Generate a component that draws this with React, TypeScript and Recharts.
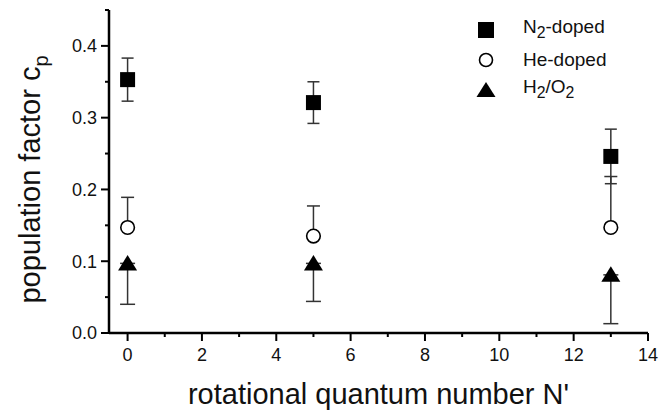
import React from 'react';
import { ScatterChart, Scatter, XAxis, YAxis, ErrorBar, Label, Legend } from 'recharts';

// rotational quantum number N'
const nPrime = [0, 5, 13];

// N2-doped flame, symmetric errors
const n2Doped = [0.353, 0.321, 0.246];
const n2Err = [0.030, 0.029, 0.038];

// He-doped flame, only upper error shown
const heDoped = [0.147, 0.135, 0.147];
const heErrUp = [0.042, 0.042, 0.071];

// H2/O2 flame, only lower error shown
const h2o2 = [0.097, 0.097, 0.081];
const h2o2ErrDown = [0.057, 0.053, 0.068];

// major ticks get a label, minor ticks only a short line
const xTicks = [0, 1, 2, 3, 4, 5, 6, 7, 8, 9, 10, 11, 12, 13, 14];
const yTicks = [0, 0.05, 0.1, 0.15, 0.2, 0.25, 0.3, 0.35, 0.4, 0.45];

const FONT = '"Liberation Sans", Arial, sans-serif';
const INK = '#111';

const n2Data = nPrime.map((x, i) => ({ x, y: n2Doped[i], err: [n2Err[i], n2Err[i]] }));
const heData = nPrime.map((x, i) => ({ x, y: heDoped[i], err: [0, heErrUp[i]] }));
const h2o2Data = nPrime.map((x, i) => ({ x, y: h2o2[i], err: [h2o2ErrDown[i], 0] }));

const SquareDot = ({ cx, cy }: any) => <rect x={cx - 7.5} y={cy - 7.5} width={15} height={15} fill="#000" />;
const CircleDot = ({ cx, cy }: any) => <circle cx={cx} cy={cy} r={6.8} fill="#fff" stroke="#000" strokeWidth={1.6} />;
const TriangleDot = ({ cx, cy }: any) => (
  <polygon points={`${cx},${cy - 8.5} ${cx + 9.5},${cy + 7} ${cx - 9.5},${cy + 7}`} fill="#000" />
);

// tickSize and tickMargin are 0, so x/y here sit on the axis line
const XTick = ({ x, y, payload }: any) => {
  const major = payload.value % 2 === 0;
  return (
    <g>
      <line x1={x} x2={x} y1={y} y2={y + (major ? 8 : 4)} stroke="#000" strokeWidth={2} />
      {major && (
        <text x={x} y={y + 15} dy="0.71em" textAnchor="middle" fontFamily={FONT} fontSize={18} fill={INK}>
          {payload.value}
        </text>
      )}
    </g>
  );
};

const YTick = ({ x, y, payload }: any) => {
  const major = Math.round(payload.value * 100) % 10 === 0;
  return (
    <g>
      <line x1={x} x2={x - (major ? 8 : 4)} y1={y} y2={y} stroke="#000" strokeWidth={2} />
      {major && (
        <text x={x - 12} y={y} dy="0.355em" textAnchor="end" fontFamily={FONT} fontSize={18} fill={INK}>
          {payload.value.toFixed(1)}
        </text>
      )}
    </g>
  );
};

const YTitle = ({ viewBox }: any) => {
  const cx = viewBox.x + 40;
  const cy = viewBox.y + viewBox.height / 2 + 8;
  return (
    <text
      x={cx}
      y={cy}
      transform={`rotate(-90 ${cx} ${cy})`}
      textAnchor="middle"
      fontFamily={FONT}
      fontSize={29}
      fill={INK}
    >
      population factor c<tspan dy={8} fontSize={20}>p</tspan>
    </text>
  );
};

const legendRows = [
  { icon: 'square', label: <>N<sub>2</sub>-doped</> },
  { icon: 'circle', label: <>He-doped</> },
  { icon: 'triangle', label: <>H<sub>2</sub>/O<sub>2</sub></> },
];

const LegendIcon = ({ kind }: { kind: string }) => (
  <svg width={22} height={20}>
    {kind === 'square' && <rect x={3} y={2} width={16} height={16} fill="#000" />}
    {kind === 'circle' && <circle cx={11} cy={10} r={6.5} fill="#fff" stroke="#000" strokeWidth={1.6} />}
    {kind === 'triangle' && <polygon points="11,2 20.5,17 1.5,17" fill="#000" />}
  </svg>
);

const LegendBox = () => (
  <div style={{ fontFamily: FONT, fontSize: 19, color: INK }}>
    {legendRows.map((r) => (
      <div key={r.icon} style={{ display: 'flex', alignItems: 'center', height: 30 }}>
        <LegendIcon kind={r.icon} />
        <span style={{ marginLeft: 26, lineHeight: '20px', whiteSpace: 'nowrap' }}>{r.label}</span>
      </div>
    ))}
  </div>
);

export default function App() {
  return (
    <div style={{ position: 'absolute', left: 0, top: 0, background: '#fff' }}>
      <ScatterChart width={671} height={410} margin={{ top: 10, right: 23, bottom: 0, left: 0 }}>
        <XAxis
          type="number"
          dataKey="x"
          domain={[-0.5, 14]}
          ticks={xTicks}
          interval={0}
          allowDataOverflow
          height={77}
          tickSize={0}
          tickMargin={0}
          tickLine={false}
          tick={XTick}
          axisLine={{ stroke: '#000', strokeWidth: 2.5 }}
        >
          <Label
            value="rotational quantum number N'"
            position="insideBottom"
            offset={6}
            style={{ fontFamily: FONT, fontSize: 29, fill: INK }}
          />
        </XAxis>
        <YAxis
          type="number"
          dataKey="y"
          domain={[0, 0.45]}
          ticks={yTicks}
          interval={0}
          allowDataOverflow
          width={109}
          tickSize={0}
          tickMargin={0}
          tickLine={false}
          tick={YTick}
          axisLine={{ stroke: '#000', strokeWidth: 2.5 }}
        >
          <Label content={YTitle} />
        </YAxis>
        <Legend
          layout="vertical"
          align="center"
          verticalAlign="middle"
          content={LegendBox}
          wrapperStyle={{ left: 475, top: 15, width: 'auto' }}
        />
        <Scatter name="N2-doped" data={n2Data} shape={SquareDot} isAnimationActive={false}>
          <ErrorBar dataKey="err" direction="y" width={6} stroke="#333" strokeWidth={1.5} />
        </Scatter>
        <Scatter name="H2/O2" data={h2o2Data} shape={TriangleDot} isAnimationActive={false}>
          <ErrorBar dataKey="err" direction="y" width={7.5} stroke="#333" strokeWidth={1.5} />
        </Scatter>
        <Scatter name="He-doped" data={heData} shape={CircleDot} isAnimationActive={false}>
          <ErrorBar dataKey="err" direction="y" width={6.5} stroke="#333" strokeWidth={1.5} />
        </Scatter>
      </ScatterChart>
    </div>
  );
}
